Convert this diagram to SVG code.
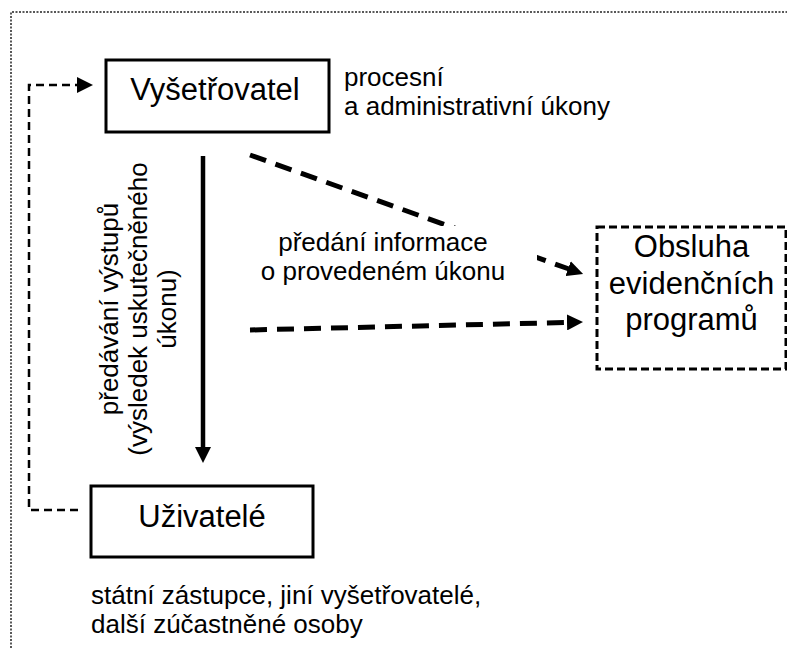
<svg xmlns="http://www.w3.org/2000/svg" width="787" height="648" viewBox="0 0 787 648">
  <style>
    text { font-family: "Liberation Sans", Arial, sans-serif; fill: #000; }
    .big { font-size: 31px; }
    .lbl { font-size: 26px; }
    .box { fill: #fff; stroke: #000; stroke-width: 3; }
    .boxdash { fill: #fff; stroke: #000; stroke-width: 3; stroke-dasharray: 8 4; }
    .solid { fill: none; stroke: #000; stroke-width: 4.5; }
    .thin { fill: none; stroke: #000; stroke-width: 2.5; stroke-dasharray: 8 5; }
    .thick { fill: none; stroke: #000; stroke-width: 5; stroke-dasharray: 17 10; }
    .frame { fill: none; stroke: #222; stroke-width: 1.5; stroke-dasharray: 2 1.5; }
  </style>
  <defs>
    <marker id="head" viewBox="0 0 16 16" refX="1" refY="8" markerWidth="16" markerHeight="16" orient="auto" markerUnits="userSpaceOnUse">
      <path d="M0,0 L16,8 L0,16 Z" fill="#000"/>
    </marker>
  </defs>

  <rect width="787" height="648" fill="#fff"/>

  <!-- dotted outer frame (runs off the right and bottom edges) -->
  <path class="frame" d="M11,648 V12 H787"/>

  <g id="connectors">
    <!-- feedback loop from Uživatelé back to Vyšetřovatel -->
    <path class="thin" d="M78,510 H29 V85 H78" marker-end="url(#head)"/>
    <!-- outputs handed down -->
    <path class="solid" d="M203,156 V448" marker-end="url(#head)"/>
    <!-- information to the records operators -->
    <path class="thick" d="M250,155 L569,269" marker-end="url(#head)"/>
    <path class="thick" d="M250,330 L568,322.4" marker-end="url(#head)"/>
  </g>

  <g id="label-info">
    <rect x="256" y="226" width="281" height="62" fill="#fff"/>
    <text class="lbl" text-anchor="middle" x="383" y="251">předání informace<tspan x="383" dy="29">o provedeném úkonu</tspan></text>
  </g>

  <g id="label-outputs">
    <text class="lbl" text-anchor="middle" transform="translate(118,309) rotate(-90)">předávání výstupů<tspan x="0" dy="29">(výsledek uskutečněného</tspan><tspan x="0" dy="29">úkonu)</tspan></text>
  </g>

  <g id="vysetrovatel">
    <rect class="box" x="106" y="60" width="223" height="72"/>
    <text class="big" text-anchor="middle" x="215" y="100">Vyšetřovatel</text>
  </g>
  <g id="label-ukony">
    <text class="lbl" x="344" y="86">procesní<tspan x="344" dy="29">a administrativní úkony</tspan></text>
  </g>

  <g id="uzivatele">
    <rect class="box" x="91" y="486" width="222" height="71"/>
    <text class="big" text-anchor="middle" x="202" y="527">Uživatelé</text>
  </g>
  <g id="label-users">
    <text class="lbl" x="91" y="604">státní zástupce, jiní vyšetřovatelé,<tspan x="91" dy="29">další zúčastněné osoby</tspan></text>
  </g>

  <g id="obsluha">
    <rect class="boxdash" x="597" y="227" width="189" height="142"/>
    <text class="big" text-anchor="middle" x="691.5" y="257">Obsluha<tspan x="691.5" dy="36.5">evidenčních</tspan><tspan x="691.5" dy="36.5">programů</tspan></text>
  </g>
</svg>
